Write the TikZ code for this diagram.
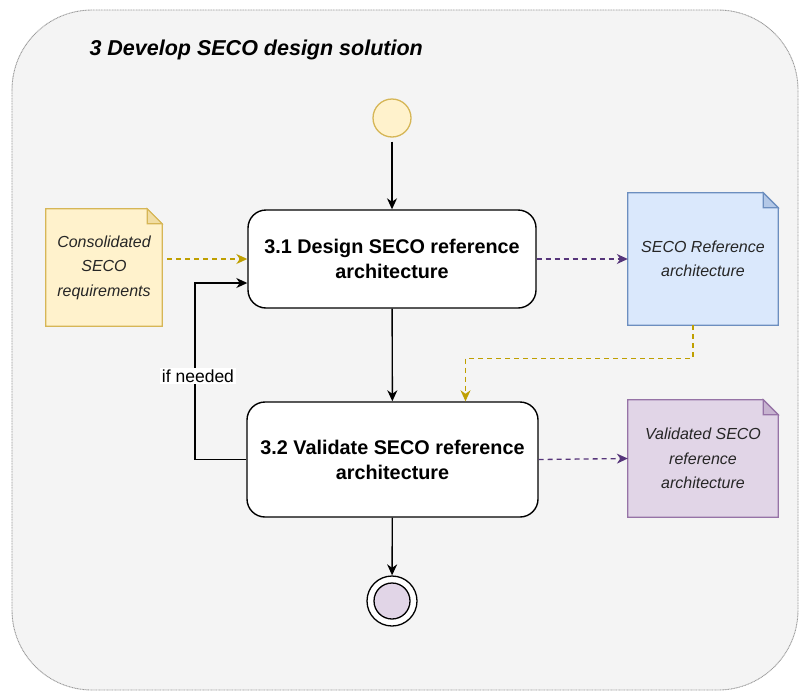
\documentclass[tikz,border=0pt]{standalone}
\usepackage{fontspec}
\setmainfont{Liberation Sans}
\usetikzlibrary{arrows.meta,calc}

\definecolor{panelfill}{HTML}{F4F4F4}
\definecolor{panelline}{HTML}{9A9A9A}
\definecolor{yelfill}{HTML}{FFF2CC}
\definecolor{yelline}{HTML}{D6B656}
\definecolor{bluefill}{HTML}{DAE8FC}
\definecolor{blueline}{HTML}{6C8EBF}
\definecolor{purfill}{HTML}{E1D5E7}
\definecolor{purline}{HTML}{9673A6}
\definecolor{goldarrow}{HTML}{BF9F00}
\definecolor{purarrow}{HTML}{56357A}

\tikzset{
  tip/.style={-{Stealth[length=11pt,width=10pt,inset=3.5pt]}},
  flow/.style={tip, draw=black, line width=1.4pt},
  goldflow/.style={tip, draw=goldarrow, line width=1.3pt, dash pattern=on 5pt off 4pt},
  purflow/.style={tip, draw=purarrow, line width=1.3pt, dash pattern=on 5pt off 4pt},
  stepbox/.style={draw=black, fill=white, line width=1.4pt, rounded corners=18pt,
    align=center, font=\fontsize{19.8}{25}\selectfont\bfseries, inner sep=0pt},
  notebox/.style={draw=none, align=center, inner sep=0pt,
    font=\fontsize{16}{24.5}\selectfont\itshape, text=black!85},
}

% folded-corner document outline around a named node: name, fill, stroke
\newcommand\docshape[3]{%
  \draw[draw=#3, fill=#2, line width=1.2pt]
    (#1.north west) -- ([xshift=-15pt]#1.north east)
    -- ([yshift=-15pt]#1.north east) -- (#1.south east)
    -- (#1.south west) -- cycle;
  \draw[draw=#3, fill=#3!35!#2, line width=1.2pt]
    ([xshift=-15pt]#1.north east) -- ([xshift=-15pt,yshift=-15pt]#1.north east)
    -- ([yshift=-15pt]#1.north east) -- cycle;
}

\begin{document}
\begin{tikzpicture}[x=1pt,y=-1pt]
\useasboundingbox (0,0) rectangle (802,691);

% swimlane panel
\draw[draw=panelline, fill=panelfill, line width=0.9pt, dash pattern=on 1pt off 0.6pt,
  rounded corners=80pt] (12,10) rectangle (798,690);
\node[anchor=west, font=\fontsize{21.5}{25}\selectfont\bfseries\itshape] (title) at (86,50)
  {3 Develop SECO design solution};

% activities
\node[stepbox, minimum width=288pt, minimum height=98pt] (d31) at (392,259)
  {3.1 Design SECO reference\\architecture};
\node[stepbox, minimum width=291pt, minimum height=115pt] (d32) at (392.5,459.5)
  {3.2 Validate SECO reference\\architecture};

% start and end
\node[circle, draw=yelline, fill=yelfill, line width=1.3pt, minimum size=38pt, inner sep=0pt]
  (start) at (392,118) {};
\node[circle, draw=black, fill=white, line width=1.3pt, minimum size=50pt, inner sep=0pt]
  (final) at (392,601) {};
\node[circle, draw=black, fill=purfill, line width=1.3pt, minimum size=36pt, inner sep=0pt]
  (finalin) at (final.center) {};

% documents
\node[notebox, minimum width=116pt, minimum height=117pt] (cons) at (104,267.5) {};
\docshape{cons}{yelfill}{yelline}
\node[notebox] (conslbl) at (cons.center) {Consolidated\\SECO\\requirements};

\node[notebox, minimum width=150pt, minimum height=132pt] (refarch) at (703,259) {};
\docshape{refarch}{bluefill}{blueline}
\node[notebox] (refarchlbl) at (refarch.center) {SECO Reference\\architecture};

\node[notebox, minimum width=150pt, minimum height=117pt] (valid) at (703,458.5) {};
\docshape{valid}{purfill}{purline}
\node[notebox] (validlbl) at (valid.center) {Validated SECO\\reference\\architecture};

% control flow
\draw[flow, shorten <=4pt] (start) -- (d31);
\draw[flow] (d31) -- (d32);
\draw[flow] (d32) -- (final);
\coordinate (fbtop) at (195,283);
\draw[flow] (d32.west) -| (fbtop) -- (fbtop -| d31.west);
\node[fill=white, inner sep=1.5pt, font=\fontsize{17.5}{20}\selectfont] (ifneeded) at (198,376) {if needed};

% data flow
\draw[goldflow, shorten <=5pt] (cons.east |- d31.west) -- (d31.west);
\draw[purflow] (d31.east) -- (refarch.west);
\draw[purflow] (d32.east) -- (valid.west);
\draw[goldflow] ([xshift=-10pt]refarch.south) -- ++(0,33) -| ([xshift=73pt]d32.north);
\end{tikzpicture}
\end{document}
